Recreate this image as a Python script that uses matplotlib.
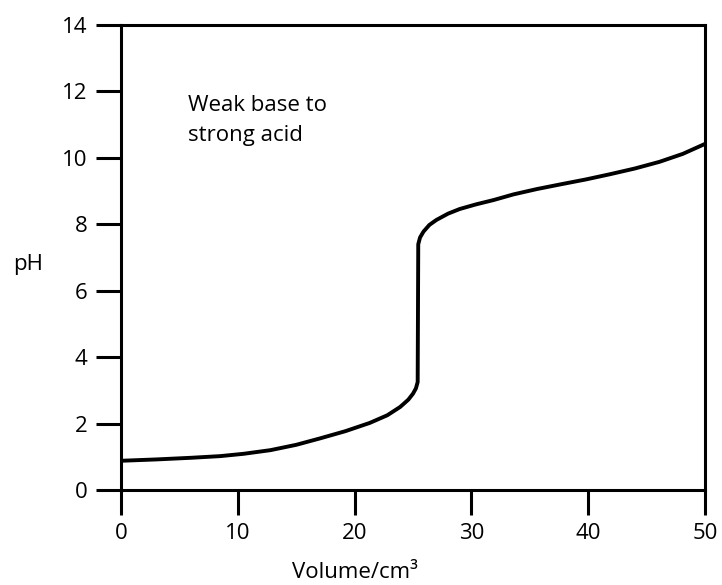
import matplotlib.pyplot as plt

# Titration curve
volume = [0, 3, 6, 8.5, 10.5, 12.8, 15, 17, 19.2, 21.3, 22.8, 23.9, 24.6,
          25.0, 25.25, 25.4,
          25.45, 25.6, 25.9, 26.4, 27.0, 28.0, 29.0, 30.4, 31.9, 33.6,
          35.6, 37.6, 39.8, 41.9, 44, 46.1, 48.1, 50]
ph = [0.88, 0.92, 0.97, 1.02, 1.09, 1.2, 1.36, 1.55, 1.77, 2.02, 2.25, 2.5,
      2.72, 2.9, 3.06, 3.25,
      7.4, 7.6, 7.78, 7.98, 8.13, 8.32, 8.46, 8.6, 8.73, 8.9,
      9.06, 9.2, 9.35, 9.51, 9.68, 9.88, 10.12, 10.42]

x_ticks = [0, 10, 20, 30, 40, 50]
y_ticks = [0, 2, 4, 6, 8, 10, 12, 14]

plt.rcParams['font.family'] = ['Open Sans', 'DejaVu Sans']

fig = plt.figure(figsize=(7.22, 5.85), dpi=100)
ax = fig.add_axes([121 / 722, 1 - 490 / 585, 584 / 722, 465 / 585])

ax.plot(volume, ph, color='black', lw=2.8, solid_capstyle='butt',
        solid_joinstyle='round')

ax.set_xlim(0, 50)
ax.set_ylim(0, 14)
ax.set_xticks(x_ticks)
ax.set_yticks(y_ticks)
ax.tick_params(direction='out', length=18, width=2.2, labelsize=16,
               colors='black', pad=6)
for s in ax.spines.values():
    s.set_linewidth(2.2)

ax.text(5.7, 11.9, 'Weak base to\nstrong acid', fontsize=16,
        va='top', ha='left', linespacing=1.55)

fig.text(355 / 722, 1 - 572 / 585, 'Volume/cm³', fontsize=16,
         ha='center', va='center')
fig.text(28 / 722, 1 - 265 / 585, 'pH', fontsize=16,
         ha='center', va='center')

fig.savefig('out.png', dpi=100)
